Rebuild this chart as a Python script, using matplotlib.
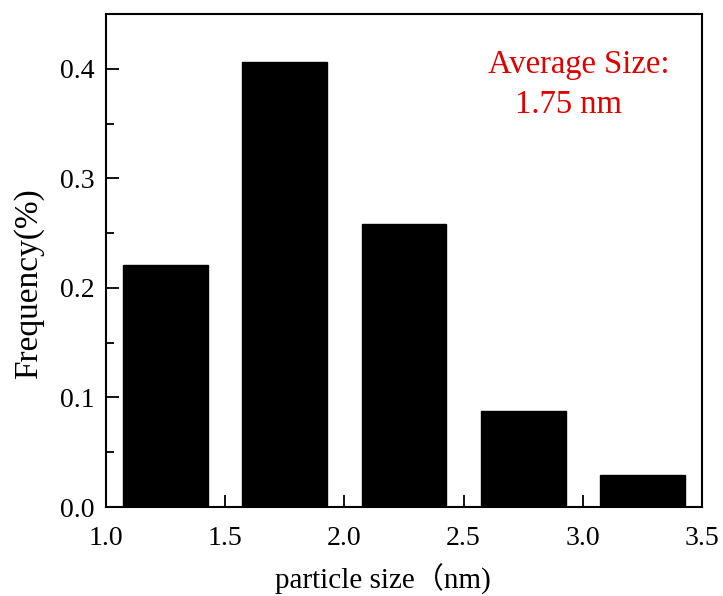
import matplotlib
matplotlib.use("Agg")
import matplotlib.pyplot as plt
from matplotlib.ticker import MultipleLocator

plt.rcParams['font.family'] = ['Liberation Serif', 'Noto Sans CJK SC']

# particle size bins (nm) and frequencies
bin_centers = [1.25, 1.75, 2.25, 2.75, 3.25]
frequency = [0.221, 0.406, 0.258, 0.088, 0.029]
bar_width = 0.355

fig = plt.figure(figsize=(7.23, 5.96), dpi=100)
ax = fig.add_axes([0.1466, 0.1493, 0.8244, 0.8272])

ax.bar(bin_centers, frequency, width=bar_width, color='black', edgecolor='black')

ax.set_xlim(1.0, 3.5)
ax.set_ylim(0, 0.45)
ax.xaxis.set_major_locator(MultipleLocator(0.5))
ax.xaxis.set_minor_locator(MultipleLocator(0.25))
ax.yaxis.set_major_locator(MultipleLocator(0.1))
ax.yaxis.set_minor_locator(MultipleLocator(0.05))
ax.xaxis.set_major_formatter(plt.FormatStrFormatter('%.1f'))
ax.yaxis.set_major_formatter(plt.FormatStrFormatter('%.1f'))

ax.tick_params(which='major', direction='in', length=9, width=1.3, labelsize=20, pad=8)
ax.tick_params(axis='x', which='major', pad=14)
ax.tick_params(which='minor', direction='in', length=6, width=1.3)
for s in ax.spines.values():
    s.set_linewidth(1.5)

ax.set_xlabel('particle size（nm)', fontsize=21)
ax.set_ylabel('Frequency(%)', fontsize=24)
ax.xaxis.set_label_coords(0.465, -0.114)
ax.yaxis.set_label_coords(-0.104, 0.454)

ax.text(2.602, 0.404, 'Average Size:', color='#e00000', fontsize=23.5, va='center', ha='left')
ax.text(2.716, 0.367, '1.75 nm', color='#e00000', fontsize=23.5, va='center', ha='left')

fig.savefig('out.png', dpi=100)
